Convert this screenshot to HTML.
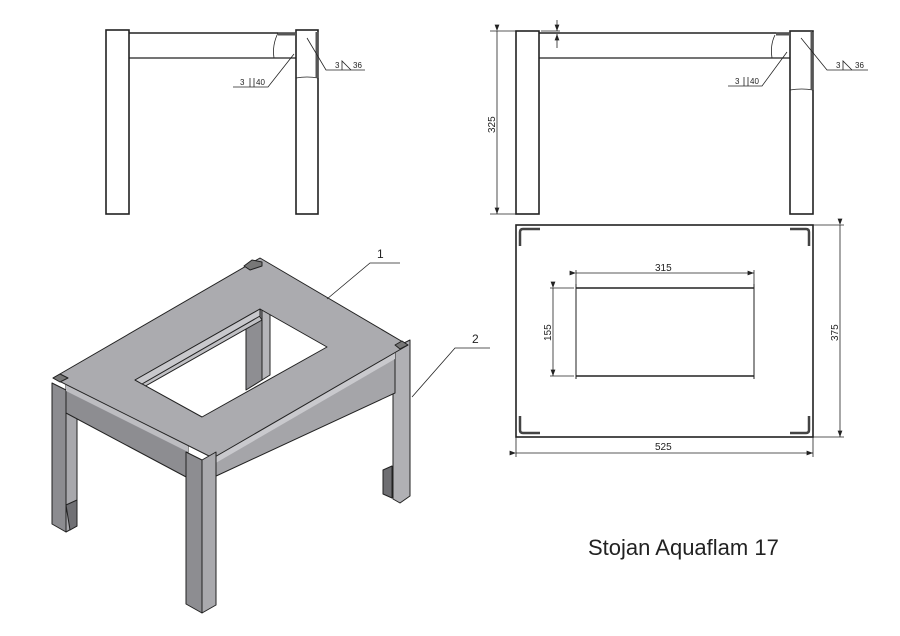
<!DOCTYPE html>
<html><head><meta charset="utf-8"><style>
html,body{margin:0;padding:0;background:#fff;}
svg{display:block;}
text{font-family:"Liberation Sans",sans-serif;fill:#222;}
</style></head><body>
<svg width="900" height="636" viewBox="0 0 900 636" xmlns="http://www.w3.org/2000/svg">
<defs><marker id="a" markerWidth="8" markerHeight="6" refX="8" refY="3" orient="auto"><path d="M0,0 L8,3 L0,6z" fill="#222"/></marker></defs>
<g stroke="#222" fill="none" stroke-width="1.6">
<rect x="106" y="30" width="23" height="184" fill="#fff"/>
<rect x="296" y="30" width="22" height="184" fill="#fff"/>
<line x1="129" y1="33" x2="296" y2="33"/>
<line x1="129" y1="58" x2="296" y2="58" stroke-width="1.2"/>
<path d="M278,33 Q272,45 274,58" stroke-width="0.8"/>
<line x1="278" y1="34" x2="296" y2="34" stroke-width="3" stroke="#555"/>
<path d="M296,78 Q307,76 318,78" stroke-width="0.8"/>
<line x1="317" y1="32" x2="317" y2="78" stroke-width="3" stroke="#555"/>
</g>
<g stroke="#222" stroke-width="0.8" fill="none">
<polyline points="233,87 268,87 294,54"/><line x1="250" y1="78" x2="250" y2="87"/><line x1="254" y1="78" x2="254" y2="87"/>
<polyline points="365,70 326,70 307,38"/><path d="M342,70 L342,61 L351,70"/>
</g>
<text x="240" y="85" font-size="8">3</text><text x="256" y="85" font-size="8">40</text>
<text x="335" y="68" font-size="8">3</text><text x="353" y="68" font-size="8">36</text>

<g stroke="#222" fill="none" stroke-width="1.6">
<rect x="516" y="31" width="23" height="183" fill="#fff"/>
<rect x="790" y="31" width="23" height="183" fill="#fff"/>
<line x1="539" y1="33" x2="790" y2="33"/>
<line x1="539" y1="58" x2="790" y2="58" stroke-width="1.2"/>
<path d="M775,35 Q770,45 772,58" stroke-width="0.8"/>
<line x1="776" y1="34" x2="790" y2="34" stroke-width="3" stroke="#555"/>
<path d="M790,90 Q802,88 813,90" stroke-width="0.8"/>
<line x1="812" y1="32" x2="812" y2="90" stroke-width="3" stroke="#555"/>
</g>
<g stroke="#222" stroke-width="0.8" fill="none">
<line x1="497" y1="31" x2="497" y2="214" marker-start="url(#a)" marker-end="url(#a)"/>
<line x1="490" y1="31" x2="516" y2="31"/><line x1="490" y1="214" x2="516" y2="214"/>
<line x1="541" y1="31" x2="560" y2="31"/>
<line x1="557" y1="20" x2="557" y2="31" marker-end="url(#a)"/><line x1="557" y1="48" x2="557" y2="34" marker-end="url(#a)"/>
<polyline points="728,86 762,86 787,52"/><line x1="744" y1="77" x2="744" y2="86"/><line x1="748" y1="77" x2="748" y2="86"/>
<polyline points="868,70 827,70 801,38"/><path d="M843,70 L843,61 L852,70"/>
</g>
<text x="0" y="0" font-size="10" transform="translate(495,133) rotate(-90)">325</text>
<text x="735" y="84" font-size="8">3</text><text x="750" y="84" font-size="8">40</text>
<text x="836" y="68" font-size="8">3</text><text x="855" y="68" font-size="8">36</text>

<g stroke="#222" fill="none">
<rect x="516" y="225" width="297" height="212" stroke-width="1.6"/>
<g stroke-width="2.5" stroke="#444" stroke-linejoin="round">
<path d="M520,246 L520,232 Q520,229 523,229 L540,229"/><path d="M790,229 L806,229 Q809,229 809,232 L809,246"/>
<path d="M520,416 L520,430 Q520,433 523,433 L540,433"/><path d="M790,433 L806,433 Q809,433 809,430 L809,416"/>
</g>
<line x1="576" y1="288" x2="754" y2="288" stroke-width="1.4"/>
<line x1="576" y1="376" x2="754" y2="376" stroke-width="1.4"/>
<line x1="576" y1="284" x2="576" y2="379" stroke-width="1"/>
<line x1="754" y1="284" x2="754" y2="379" stroke-width="1"/>
<g stroke-width="0.8">
<line x1="576" y1="273" x2="754" y2="273" marker-start="url(#a)" marker-end="url(#a)"/>
<line x1="576" y1="270" x2="576" y2="288"/><line x1="754" y1="270" x2="754" y2="288"/>
<line x1="553" y1="288" x2="553" y2="376" marker-start="url(#a)" marker-end="url(#a)"/>
<line x1="550" y1="288" x2="574" y2="288"/><line x1="550" y1="376" x2="574" y2="376"/>
<line x1="840" y1="225" x2="840" y2="437" marker-start="url(#a)" marker-end="url(#a)"/>
<line x1="813" y1="225" x2="844" y2="225"/><line x1="813" y1="437" x2="844" y2="437"/>
<line x1="516" y1="453" x2="813" y2="453" marker-start="url(#a)" marker-end="url(#a)"/>
<line x1="516" y1="437" x2="516" y2="457"/><line x1="813" y1="437" x2="813" y2="457"/>
</g></g>
<text x="655" y="271" font-size="10">315</text>
<text x="0" y="0" font-size="10" transform="translate(551,341) rotate(-90)">155</text>
<text x="0" y="0" font-size="10" transform="translate(838,341) rotate(-90)">375</text>
<text x="655" y="450" font-size="10">525</text>

<g stroke="#222" stroke-width="1" stroke-linejoin="round">
<polygon points="246,318 262,309 262,380 246,390" fill="#8e8e92"/>
<polygon points="262,309 270,314 270,375 262,380" fill="#b5b5b9"/>
<polygon points="138,382 258,314 262,320 142,388" fill="#c0c0c4"/>
<polygon points="52,383 66,390 66,532 52,524" fill="#8c8c90"/>
<polygon points="66,390 77,384 77,526 66,532" fill="#a8a8ac"/>
<polygon points="66,505 77,500 77,526 70,530" fill="#707074"/>
<polygon points="393,349 400,345 410,340 410,496 400,503 393,499" fill="#b0b0b4"/>
<polygon points="383,470 392,466 392,498 383,494" fill="#6e6e72"/>
<polygon points="66,384 188,445 188,478 66,413" fill="#8d8d91"/>
<polygon points="66,384 188,445 188,452 66,391" fill="#bdbdc1" stroke="none"/>
<polygon points="214,457 395,352 395,393 214,477" fill="#a5a5a9"/>
<polygon points="214,457 395,352 395,359 214,464" fill="#c9c9cd" stroke="none"/>
<path d="M53,378 L260,258 L408,345 L213,458 Z M135,380 L260,309 L327,347 L202,417 Z" fill="#ababaf" fill-rule="evenodd"/>
<polygon points="135,380 260,309 260,316 142,384" fill="#c8c8cc"/>
<polygon points="244,266 252,260 262,262 262,266 250,270" fill="#777"/>
<polygon points="395,345 402,341 408,345 400,349" fill="#777"/>
<polygon points="53,378 60,374 68,378 60,382" fill="#777"/>
<polygon points="186,452 202,460 202,613 186,604" fill="#8d8d91"/>
<polygon points="202,460 216,452 216,605 202,613" fill="#a9a9ad"/>
</g>
<g stroke="#222" stroke-width="0.8" fill="none">
<polyline points="327,299 370,263 400,263"/>
<polyline points="412,397 455,348 490,348"/>
</g>
<text x="377" y="258" font-size="12">1</text>
<text x="472" y="343" font-size="12">2</text>

<text x="588" y="555" font-size="22">Stojan Aquaflam 17</text>
</svg>
</body></html>
